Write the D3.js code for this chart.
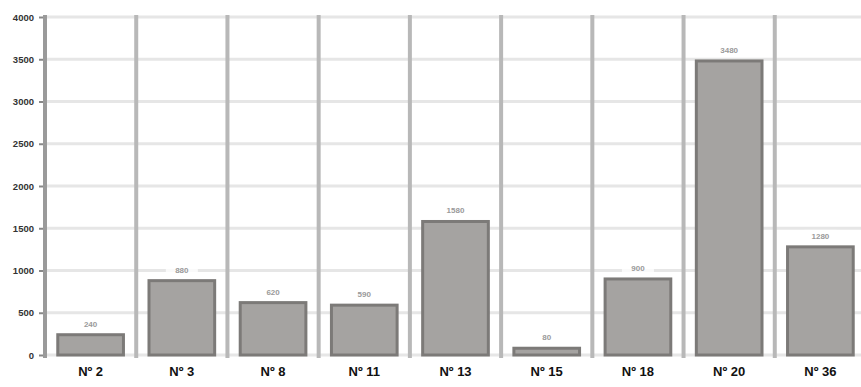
<!DOCTYPE html>
<html>
<head>
<meta charset="utf-8">
<script src="https://cdn.jsdelivr.net/npm/d3@7"></script>
<style>
  html, body { margin: 0; padding: 0; background: #ffffff; }
  svg { display: block; }
</style>
</head>
<body>
<div id="chart"></div>
<script>
const categories = ["Nº 2", "Nº 3", "Nº 8", "Nº 11", "Nº 13", "Nº 15", "Nº 18", "Nº 20", "Nº 36"];
const values = [240, 880, 620, 590, 1580, 80, 900, 3480, 1280];
const yTicks = [0, 500, 1000, 1500, 2000, 2500, 3000, 3500, 4000];

const W = 861, H = 387;
const margin = { left: 45, right: -5, top: 17, bottom: 32 };

const svg = d3.select("#chart").append("svg").attr("width", W).attr("height", H);

const x = d3.scaleBand().domain(categories)
  .range([margin.left, W - margin.right]).paddingInner(0).paddingOuter(0);
const y = d3.scaleLinear().domain([0, 4000]).range([H - margin.bottom, margin.top]);

// horizontal gridlines
svg.append("g").selectAll("line").data(yTicks).join("line")
  .attr("x1", margin.left).attr("x2", W)
  .attr("y1", d => y(d)).attr("y2", d => y(d))
  .attr("stroke", "#e6e6e6").attr("stroke-width", 3);

// vertical separators at band starts
svg.append("g").selectAll("line").data(categories).join("line")
  .attr("x1", d => x(d)).attr("x2", d => x(d))
  .attr("y1", margin.top - 2).attr("y2", y(0) + 3)
  .attr("stroke", d => d === categories[0] ? "#9a9a9a" : "#b8b8b8")
  .attr("stroke-width", 4);

// y axis
const yAxis = d3.axisLeft(y).tickValues(yTicks).tickSize(4).tickPadding(5).tickFormat(d3.format("d"));
const gy = svg.append("g").attr("transform", `translate(${margin.left - 2},0)`).call(yAxis);
gy.select(".domain").remove();
gy.selectAll(".tick line").attr("stroke", "#888").attr("stroke-width", 2);
gy.selectAll(".tick text").attr("fill", "#333").attr("font-size", 9.5)
  .attr("font-weight", "bold").attr("font-family", "Liberation Sans, Arial, sans-serif");

// bars
const bw = x.bandwidth() * 0.72;
svg.append("g").selectAll("rect").data(values).join("rect")
  .attr("x", (d, i) => x(categories[i]) + (x.bandwidth() - bw) / 2)
  .attr("y", d => y(d))
  .attr("width", bw)
  .attr("height", d => y(0) - y(d))
  .attr("fill", "#a5a3a1")
  .attr("stroke", "#7c7a78")
  .attr("stroke-width", 3);

// value labels
const lg = svg.append("g");
values.forEach((v, i) => {
  const cx = x(categories[i]) + x.bandwidth() / 2;
  const ty = y(v) - 9;
  lg.append("rect").attr("x", cx - 16).attr("y", ty - 8).attr("width", 32).attr("height", 12)
    .attr("fill", "#ffffff").attr("opacity", 0.8);
  lg.append("text").attr("x", cx).attr("y", ty + 1).attr("text-anchor", "middle")
    .attr("font-size", 8).attr("fill", "#9a9a9a").attr("font-weight", "bold")
    .attr("font-family", "Liberation Sans, Arial, sans-serif").text(v);
});

// x labels
const xAxis = d3.axisBottom(x).tickSize(0).tickPadding(12);
const gx = svg.append("g").attr("transform", `translate(0,${y(0)})`).call(xAxis);
gx.select(".domain").remove();
gx.selectAll(".tick text").attr("fill", "#111").attr("font-size", 13)
  .attr("font-weight", "bold").attr("font-family", "Liberation Sans, Arial, sans-serif");
</script>
</body>
</html>
